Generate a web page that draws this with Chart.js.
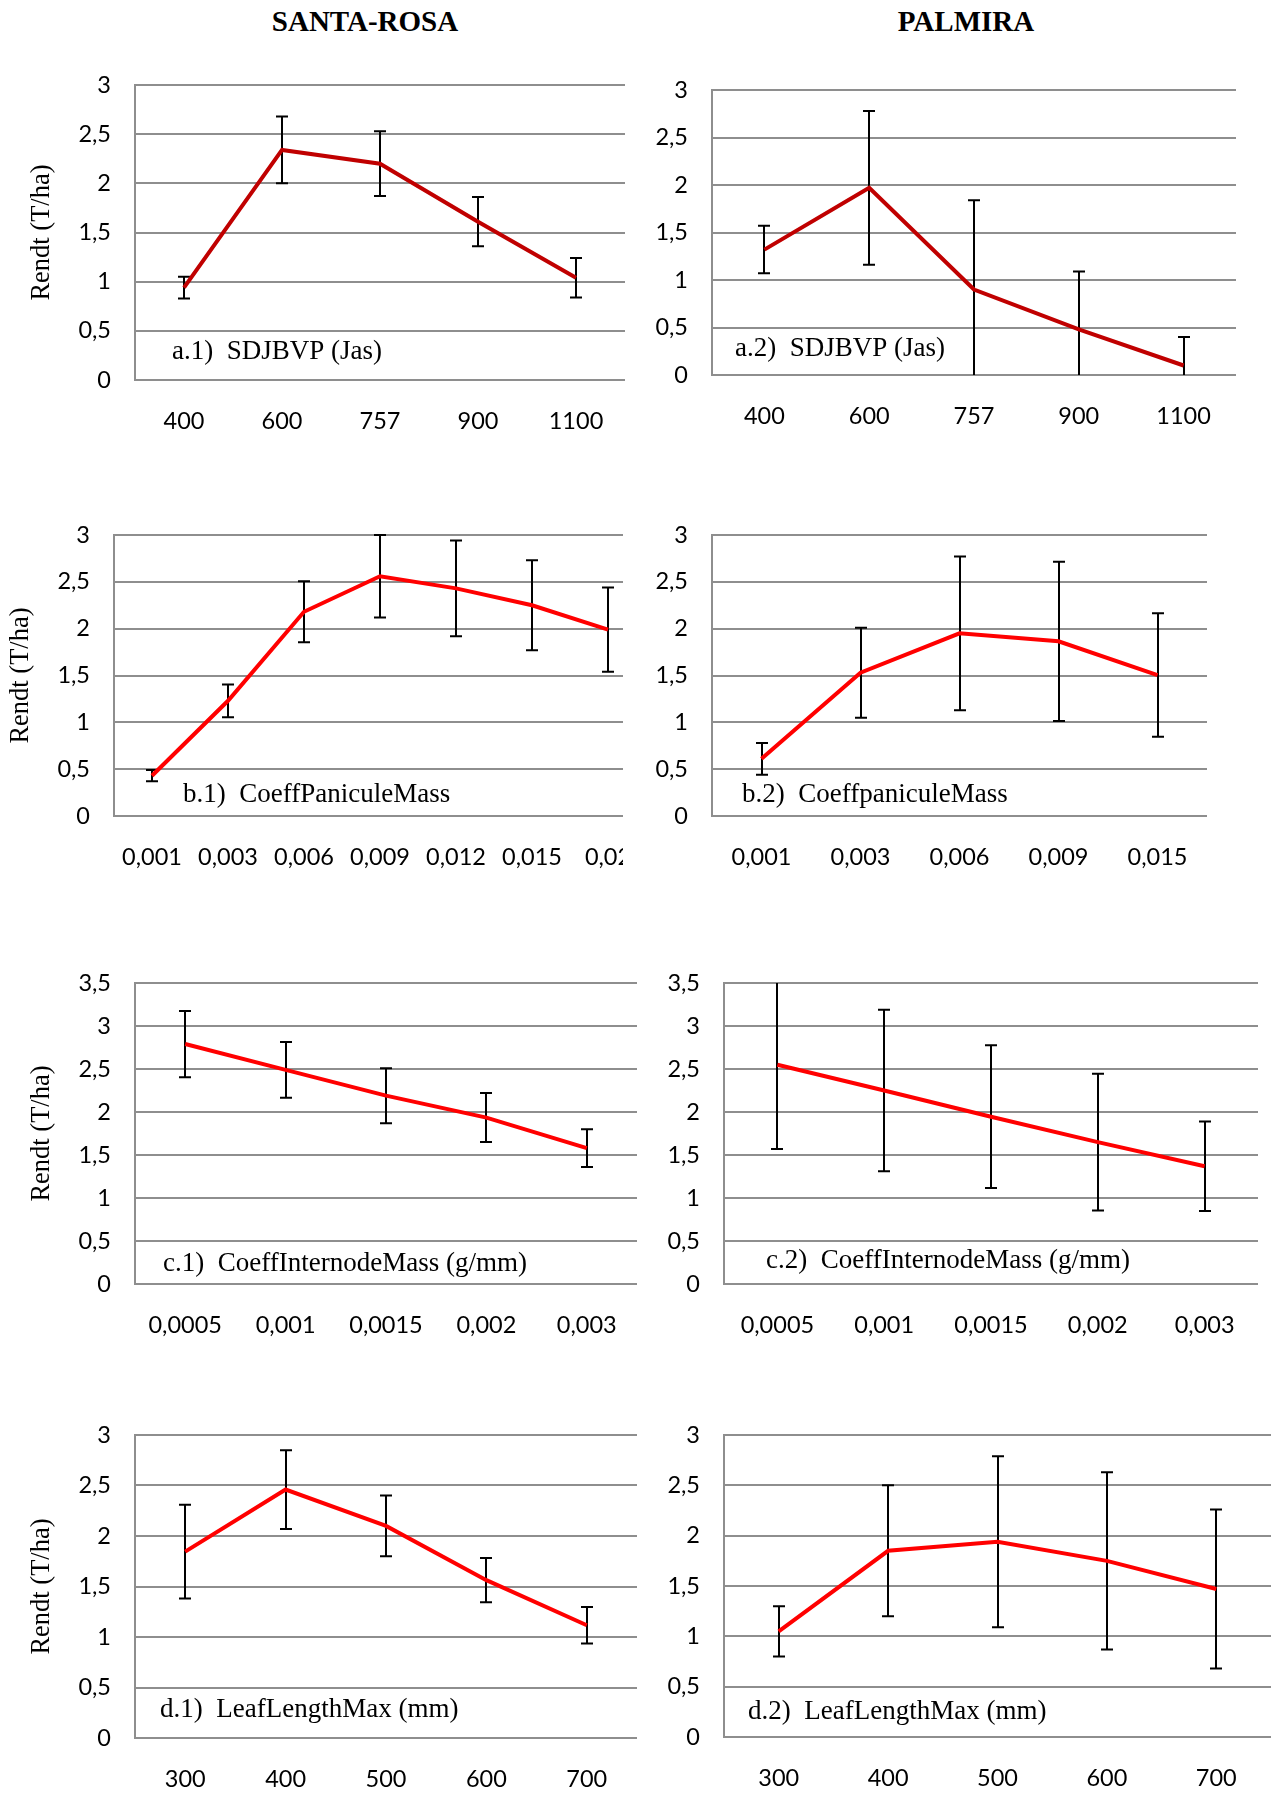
<!DOCTYPE html>
<html>
<head>
<meta charset="utf-8">
<script src="https://cdn.jsdelivr.net/npm/chart.js@4.4.1/dist/chart.umd.min.js"></script>
<style>
  html, body { margin: 0; padding: 0; background: #fff; overflow: hidden; }
  body { width: 1278px; height: 1796px; position: relative; }
  .site { position: absolute; top: 21px; transform: translate(-50%, -50%); font: bold 29px "Liberation Serif", serif; white-space: nowrap; color: #000; }
  .panel { position: absolute; overflow: hidden; }
  canvas { display: block; }
</style>
</head>
<body>
<div class="site" style="left:365px">SANTA-ROSA</div>
<div class="site" style="left:966px">PALMIRA</div>
<div class="panel" id="a1"></div>
<div class="panel" id="a2"></div>
<div class="panel" id="b1"></div>
<div class="panel" id="b2"></div>
<div class="panel" id="c1"></div>
<div class="panel" id="c2"></div>
<div class="panel" id="d1"></div>
<div class="panel" id="d2"></div>
<script>
const yTitle = "Rendt (T/ha)";

// a) SDJBVP (Jas)
const sdjLabels = ["400", "600", "757", "900", "1100"];
const sdjSantaRosa = [0.94, 2.34, 2.20, 1.61, 1.04];
const sdjSantaRosaErr = [0.11, 0.34, 0.33, 0.25, 0.20];
const sdjPalmira = [1.32, 1.97, 0.90, 0.48, 0.10];
const sdjPalmiraErr = [0.25, 0.81, 0.94, 0.61, 0.30];

// b) CoeffPaniculeMass
const panSantaRosaLabels = ["0,001", "0,003", "0,006", "0,009", "0,012", "0,015", "0,02"];
const panSantaRosa = [0.43, 1.23, 2.18, 2.56, 2.43, 2.25, 1.99];
const panSantaRosaErr = [0.06, 0.175, 0.325, 0.44, 0.51, 0.48, 0.45];
const panPalmiraLabels = ["0,001", "0,003", "0,006", "0,009", "0,015"];
const panPalmira = [0.61, 1.53, 1.95, 1.865, 1.505];
const panPalmiraErr = [0.17, 0.48, 0.82, 0.85, 0.66];

// c) CoeffInternodeMass (g/mm)
const intLabels = ["0,0005", "0,001", "0,0015", "0,002", "0,003"];
const intSantaRosa = [2.79, 2.49, 2.19, 1.935, 1.58];
const intSantaRosaErr = [0.385, 0.325, 0.32, 0.285, 0.22];
const intPalmira = [2.55, 2.25, 1.945, 1.65, 1.37];
const intPalmiraErr = [0.98, 0.94, 0.83, 0.795, 0.52];

// d) LeafLengthMax (mm)
const leafLabels = ["300", "400", "500", "600", "700"];
const leafSantaRosa = [1.845, 2.46, 2.10, 1.563, 1.116];
const leafSantaRosaErr = [0.465, 0.39, 0.30, 0.22, 0.18];
const leafPalmira = [1.05, 1.85, 1.94, 1.75, 1.47];
const leafPalmiraErr = [0.25, 0.65, 0.85, 0.88, 0.79];

const gridGrey = "#8e8e8e";
const tickFont = { family: "Lato", size: 23.5 };

// error bars, clipped to the plot like the original (no cap when cut off)
const errorBars = {
  id: "errorBars",
  beforeDatasetsDraw(chart) {
    const { ctx, chartArea: a, scales: { y } } = chart;
    const ds = chart.data.datasets[0];
    const meta = chart.getDatasetMeta(0);
    ctx.save();
    ctx.strokeStyle = "#000";
    ctx.lineWidth = 2;
    meta.data.forEach((pt, i) => {
      const hi = y.getPixelForValue(ds.data[i] + ds.errors[i]);
      const lo = y.getPixelForValue(ds.data[i] - ds.errors[i]);
      const x = Math.round(pt.x);
      ctx.beginPath();
      ctx.moveTo(x, Math.max(hi, a.top));
      ctx.lineTo(x, Math.min(lo, a.bottom));
      if (hi >= a.top) { ctx.moveTo(x - 6, hi); ctx.lineTo(x + 6, hi); }
      if (lo <= a.bottom - 1) { ctx.moveTo(x - 6, lo); ctx.lineTo(x + 6, lo); }
      ctx.stroke();
    });
    ctx.restore();
  }
};

const panelTag = {
  id: "panelTag",
  afterDraw(chart, args, opts) {
    const { ctx, chartArea: a } = chart;
    ctx.save();
    ctx.font = '27px "Liberation Serif"';
    ctx.fillStyle = "#000";
    ctx.textBaseline = "middle";
    ctx.fillText(opts.text, a.left + opts.dx, a.bottom - opts.dy);
    ctx.restore();
  }
};

function drawPanel(id, box, labels, values, errors, color, yMax, tag) {
  const colLeft = box.l < 640 ? 0 : 640;
  const top = box.t - 30;
  const w = Math.round(box.r - colLeft);
  const h = Math.round(box.b - top + 70);
  const wrap = document.getElementById(id);
  wrap.style.left = colLeft + "px";
  wrap.style.top = top + "px";
  wrap.style.width = (box.clip ? box.clip - colLeft : w) + "px";
  wrap.style.height = h + "px";
  const canvas = document.createElement("canvas");
  canvas.width = w;
  canvas.height = h;
  wrap.appendChild(canvas);

  return new Chart(canvas, {
    type: "line",
    data: {
      labels,
      datasets: [{
        data: values,
        errors,
        borderColor: color,
        borderWidth: 4,
        pointRadius: 0,
        tension: 0,
        fill: false,
      }],
    },
    options: {
      responsive: false,
      animation: false,
      events: [],
      layout: { padding: { top: 30, left: 0, right: 0, bottom: 0 } },
      plugins: {
        legend: { display: false },
        tooltip: { enabled: false },
        panelTag: tag,
      },
      scales: {
        x: {
          offset: true,
          grid: { display: false, drawTicks: false },
          border: { display: false },
          ticks: { padding: 27, maxRotation: 0, autoSkip: false, color: "#000", font: tickFont },
          afterFit: (s) => { s.height = 70; s.paddingLeft = 0; s.paddingRight = 0; },
        },
        y: {
          min: 0,
          max: yMax,
          ticks: {
            stepSize: 0.5,
            padding: 24,
            color: "#000",
            font: tickFont,
            callback: (v) => String(v).replace(".", ","),
          },
          grid: { color: gridGrey, lineWidth: 2, drawTicks: false },
          border: { color: gridGrey, width: 2 },
          title: {
            display: box.titleX !== undefined,
            text: yTitle,
            color: "#000",
            font: { family: "Liberation Serif", size: 26.5 },
            padding: { top: (box.titleX || 0) - 15.9, bottom: 0 },
          },
          afterFit: (s) => { s.width = box.l - colLeft; s.paddingTop = 0; s.paddingBottom = 0; },
        },
      },
    },
    plugins: [errorBars, panelTag],
  });
}

const darkRed = "#c00000";
const red = "#ff0000";

drawPanel("a1", { l: 135, t: 85, r: 625, b: 380, titleX: 42 }, sdjLabels, sdjSantaRosa, sdjSantaRosaErr, darkRed, 3,
  { text: "a.1)  SDJBVP (Jas)", dx: 37, dy: 28 });
drawPanel("a2", { l: 712, t: 90, r: 1236, b: 375 }, sdjLabels, sdjPalmira, sdjPalmiraErr, darkRed, 3,
  { text: "a.2)  SDJBVP (Jas)", dx: 23, dy: 26 });
drawPanel("b1", { l: 114, t: 535, r: 646, b: 816, titleX: 21, clip: 623 }, panSantaRosaLabels, panSantaRosa, panSantaRosaErr, red, 3,
  { text: "b.1)  CoeffPaniculeMass", dx: 69, dy: 21 });
drawPanel("b2", { l: 712, t: 535, r: 1207, b: 816 }, panPalmiraLabels, panPalmira, panPalmiraErr, red, 3,
  { text: "b.2)  CoeffpaniculeMass", dx: 30, dy: 21 });
drawPanel("c1", { l: 135, t: 983, r: 637, b: 1284, titleX: 42 }, intLabels, intSantaRosa, intSantaRosaErr, red, 3.5,
  { text: "c.1)  CoeffInternodeMass (g/mm)", dx: 28, dy: 20 });
drawPanel("c2", { l: 724, t: 983, r: 1258, b: 1284 }, intLabels, intPalmira, intPalmiraErr, red, 3.5,
  { text: "c.2)  CoeffInternodeMass (g/mm)", dx: 42, dy: 23 });
drawPanel("d1", { l: 135, t: 1435, r: 637, b: 1738, titleX: 42 }, leafLabels, leafSantaRosa, leafSantaRosaErr, red, 3,
  { text: "d.1)  LeafLengthMax (mm)", dx: 25, dy: 28 });
drawPanel("d2", { l: 724, t: 1435, r: 1271, b: 1737 }, leafLabels, leafPalmira, leafPalmiraErr, red, 3,
  { text: "d.2)  LeafLengthMax (mm)", dx: 24, dy: 25 });
</script>
</body>
</html>
